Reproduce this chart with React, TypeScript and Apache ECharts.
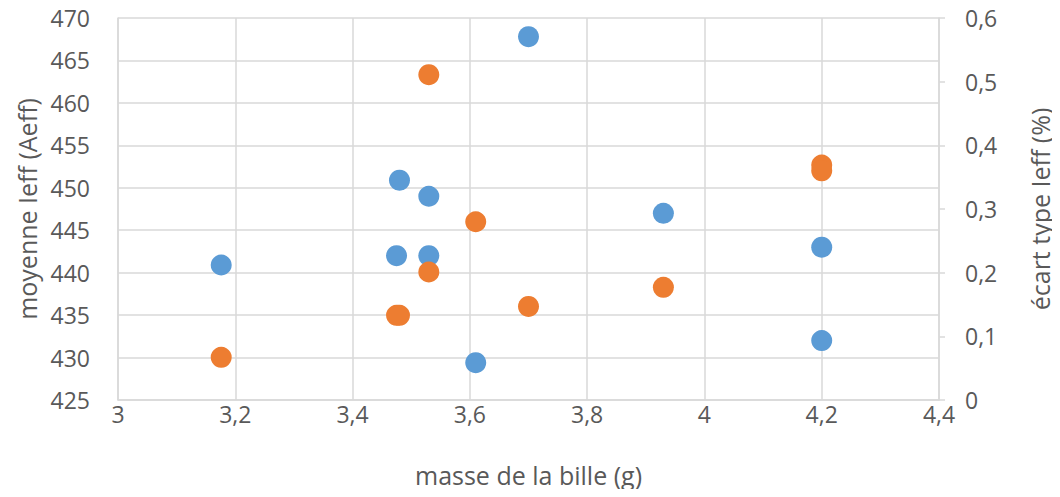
import React, { useEffect, useRef } from "react";
import * as echarts from "echarts";

const masses = [3.176, 3.475, 3.48, 3.53, 3.53, 3.61, 3.7, 3.93, 4.2, 4.2];
const moyenneIeff = [440.9, 442, 450.9, 449, 442, 429.4, 467.8, 447, 443, 432];
const massesEcart = [3.176, 3.475, 3.48, 3.53, 3.53, 3.61, 3.7, 3.93, 4.2, 4.2];
const ecartType = [0.067, 0.133, 0.133, 0.511, 0.201, 0.28, 0.147, 0.177, 0.369, 0.36];

const FONT = "'Open Sans', 'Noto Sans', sans-serif";
const TXT = "#595959";
const GRID = "#d9d9d9";

const fmt = (v: number) => String(Math.round(v * 10) / 10).replace(".", ",");

export default function App() {
  const ref = useRef<HTMLDivElement>(null);
  useEffect(() => {
    if (!ref.current) return;
    const chart = echarts.init(ref.current, null, { renderer: "svg" });
    chart.setOption({
      animation: false,
      backgroundColor: "#ffffff",
      textStyle: { fontFamily: FONT },
      grid: { left: 118, right: 116, top: 18, bottom: 97, containLabel: false },
      xAxis: {
        type: "value",
        min: 3,
        max: 4.4,
        interval: 0.2,
        name: "masse de la bille (g)",
        nameLocation: "middle",
        nameGap: 62,
        nameTextStyle: { color: TXT, fontSize: 25, fontFamily: FONT },
        axisLine: { show: true, lineStyle: { color: GRID, width: 1.5 } },
        axisTick: { show: false },
        splitLine: { show: true, lineStyle: { color: GRID, width: 1.5 } },
        axisLabel: { color: TXT, fontSize: 23, fontFamily: FONT, margin: 2, formatter: fmt },
      },
      yAxis: [
        {
          type: "value",
          position: "left",
          min: 425,
          max: 470,
          interval: 5,
          name: "moyenne Ieff (Aeff)",
          nameLocation: "middle",
          nameGap: 78,
          nameRotate: 90,
          nameTextStyle: { color: TXT, fontSize: 25, fontFamily: FONT },
          axisLine: { show: true, lineStyle: { color: GRID, width: 1.5 } },
          axisTick: { show: false },
          splitLine: { show: true, lineStyle: { color: GRID, width: 1.5 } },
          axisLabel: { color: TXT, fontSize: 23, fontFamily: FONT, margin: 28 },
        },
        {
          type: "value",
          position: "right",
          min: 0,
          max: 0.6,
          interval: 0.1,
          name: "écart type Ieff (%)",
          nameLocation: "middle",
          nameGap: 88,
          nameRotate: 90,
          nameTextStyle: { color: TXT, fontSize: 25, fontFamily: FONT },
          axisLine: { show: true, lineStyle: { color: GRID, width: 1.5 } },
          axisTick: { show: true, length: 6, lineStyle: { color: GRID, width: 1.5 } },
          splitLine: { show: false },
          axisLabel: { color: TXT, fontSize: 23, fontFamily: FONT, margin: 26, formatter: fmt },
        },
      ],
      series: [
        {
          name: "moyenne Ieff",
          type: "scatter",
          yAxisIndex: 0,
          symbol: "circle",
          symbolSize: 21,
          itemStyle: { color: "#5b9bd5", opacity: 1 },
          data: masses.map((m, i) => [m, moyenneIeff[i]]),
        },
        {
          name: "écart type Ieff",
          type: "scatter",
          yAxisIndex: 1,
          symbol: "circle",
          symbolSize: 21,
          itemStyle: { color: "#ed7d31", opacity: 1 },
          data: massesEcart.map((m, i) => [m, ecartType[i]]),
        },
      ],
    });
    return () => chart.dispose();
  }, []);
  return <div ref={ref} style={{ width: 1060, height: 497, margin: -8 }} />;
}
